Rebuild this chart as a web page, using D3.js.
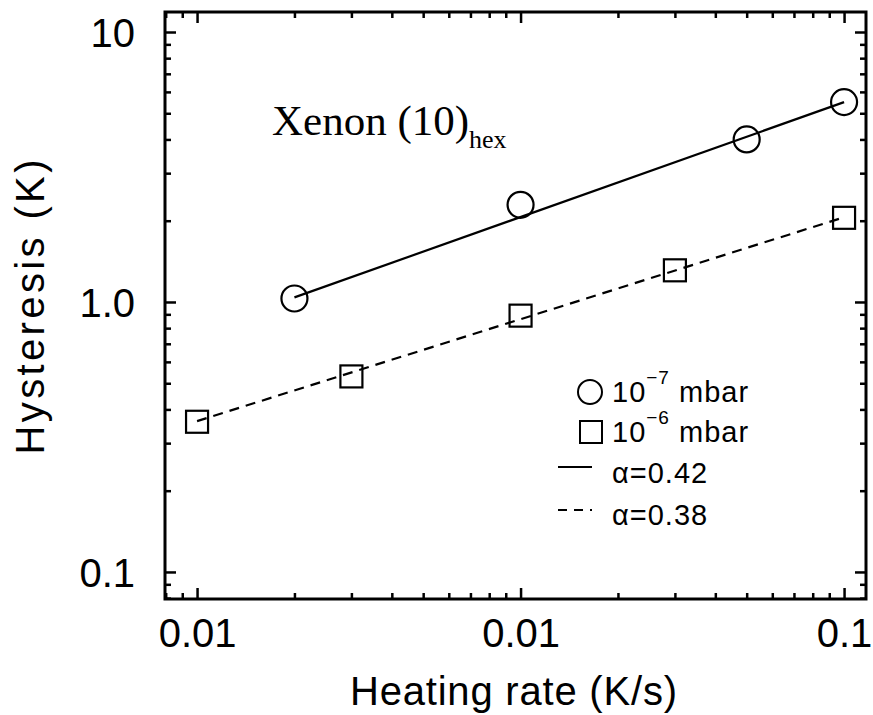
<!DOCTYPE html>
<html>
<head>
<meta charset="utf-8">
<script src="https://cdn.jsdelivr.net/npm/d3@7"></script>
<style>
  body { margin: 0; background: #fff; }
  .axis text { font-family: "Liberation Sans", Arial, sans-serif; font-size: 40px; fill: #000; }
  .axis line { stroke: #000; stroke-width: 2.5; }
  .axis path { display: none; }
</style>
</head>
<body>
<div id="chart"></div>
<script>
// heating rate (K/s) and hysteresis (K) for the two pressures
const rateLowP = [0.002, 0.01, 0.05, 0.1]
const hystLowP = [1.03, 2.29, 4.0, 5.5]
const rateHighP = [0.001, 0.003, 0.01, 0.03, 0.1]
const hystHighP = [0.36, 0.53, 0.89, 1.31, 2.05]

// power-law fits, read at their end points
const fitLowRate = [0.002, 0.1]
const fitLowHyst = [1.04, 5.5]
const fitHighRate = [0.001, 0.1]
const fitHighHyst = [0.362, 2.06]

const xTickValues = [0.001, 0.01, 0.1]
const xTickLabels = ['0.01', '0.01', '0.1']
const yTickValues = [0.1, 1, 10]
const yTickLabels = ['0.1', '1.0', '10']

const legendLabels = [['10', '\u22127', ' mbar'], ['10', '\u22126', ' mbar'], ['\u03b1=0.42'], ['\u03b1=0.38']]

const width = 873, height = 715
const frame = {left: 165, right: 866, top: 12, bottom: 599}

const svg = d3.select('#chart')
    .append('svg')
        .attr('width', width)
        .attr('height', height)

const x = d3.scaleLog()
    .domain([0.000796, 0.1169])
    .range([frame.left, frame.right])
const y = d3.scaleLog()
    .domain([0.0794, 11.86])
    .range([frame.bottom, frame.top])

// minor tick positions 2..9 per decade inside the domain
const minorTicks = (scale) => {
    const [a, b] = scale.domain()
    const out = []
    for (let p = Math.floor(Math.log10(a)); p <= Math.ceil(Math.log10(b)); p++) {
        for (let k = 2; k <= 9; k++) {
            const v = k * Math.pow(10, p)
            if (v > a && v < b) out.push(v)
        }
    }
    return out
}
const xMinor = minorTicks(x)
const yMinor = minorTicks(y)

const drawAxis = (axisFn, scale, transform, values, size, labels, padding) => {
    const g = svg.append('g')
        .attr('class', 'axis')
        .attr('transform', transform)
        .call(axisFn(scale)
            .tickValues(values)
            .tickSize(-size)
            .tickPadding(padding || 0)
            .tickFormat(labels ? (d, i) => labels[i] : ''))
    return g
}

// bottom / top
drawAxis(d3.axisBottom, x, `translate(0,${frame.bottom})`, xTickValues, 11, xTickLabels, 20)
drawAxis(d3.axisBottom, x, `translate(0,${frame.bottom})`, xMinor, 6)
drawAxis(d3.axisTop, x, `translate(0,${frame.top})`, xTickValues, 11)
drawAxis(d3.axisTop, x, `translate(0,${frame.top})`, xMinor, 6)
// left / right
drawAxis(d3.axisLeft, y, `translate(${frame.left},0)`, yTickValues, 11, yTickLabels, 30)
    .selectAll('text').attr('dy', '0.36em')
drawAxis(d3.axisLeft, y, `translate(${frame.left},0)`, yMinor, 6)
drawAxis(d3.axisRight, y, `translate(${frame.right},0)`, yTickValues, 11)
drawAxis(d3.axisRight, y, `translate(${frame.right},0)`, yMinor, 6)

// frame
svg.append('rect')
    .attr('x', frame.left)
    .attr('y', frame.top)
    .attr('width', frame.right - frame.left)
    .attr('height', frame.bottom - frame.top)
    .style('fill', 'none')
    .style('stroke', '#000')
    .style('stroke-width', 3)

// axis titles
svg.append('text')
    .attr('x', 513.5)
    .attr('y', 705)
    .attr('text-anchor', 'middle')
    .attr('textLength', 327)
    .style('font-family', '"Liberation Sans", Arial, sans-serif')
    .style('font-size', '40px')
    .text('Heating rate (K/s)')

svg.append('text')
    .attr('transform', 'translate(44,307) rotate(-90)')
    .attr('text-anchor', 'middle')
    .attr('textLength', 295)
    .style('font-family', '"Liberation Sans", Arial, sans-serif')
    .style('font-size', '40px')
    .text('Hysteresis (K)')

// annotation
const note = svg.append('text')
    .attr('x', 272)
    .attr('y', 135)
    .style('font-family', '"Liberation Serif", "Times New Roman", serif')
    .style('font-size', '43px')
note.append('tspan').text('Xenon (10)')
note.append('tspan')
    .attr('dy', 13)
    .style('font-size', '26px')
    .text('hex')

// fit lines
const line = d3.line()
    .x((d) => x(d[0]))
    .y((d) => y(d[1]))

svg.append('path')
    .attr('d', line(d3.zip(fitLowRate, fitLowHyst)))
    .style('fill', 'none')
    .style('stroke', '#000')
    .style('stroke-width', 2.2)

svg.append('path')
    .attr('d', line(d3.zip(fitHighRate, fitHighHyst)))
    .style('fill', 'none')
    .style('stroke', '#000')
    .style('stroke-width', 2.2)
    .style('stroke-dasharray', '10,7')

// markers
svg.append('g').selectAll('circle')
    .data(d3.zip(rateLowP, hystLowP))
    .join('circle')
        .attr('cx', (d) => x(d[0]))
        .attr('cy', (d) => y(d[1]))
        .attr('r', 13)
        .style('fill', 'none')
        .style('stroke', '#000')
        .style('stroke-width', 2.2)

const sq = 22
svg.append('g').selectAll('rect')
    .data(d3.zip(rateHighP, hystHighP))
    .join('rect')
        .attr('x', (d) => x(d[0]) - sq / 2)
        .attr('y', (d) => y(d[1]) - sq / 2)
        .attr('width', sq)
        .attr('height', sq)
        .style('fill', 'none')
        .style('stroke', '#000')
        .style('stroke-width', 2.2)

// legend
const legendFont = '"Liberation Sans", Arial, sans-serif'
const legendRows = [402, 442, 483, 525]
const legend = svg.append('g').attr('class', 'legend')

legend.append('circle')
    .attr('cx', 590).attr('cy', 392).attr('r', 12)
    .style('fill', 'none').style('stroke', '#000').style('stroke-width', 2)
legend.append('rect')
    .attr('x', 580).attr('y', 421).attr('width', 22).attr('height', 22)
    .style('fill', 'none').style('stroke', '#000').style('stroke-width', 2)
legend.append('line')
    .attr('x1', 558).attr('x2', 592).attr('y1', 467).attr('y2', 467)
    .style('stroke', '#000').style('stroke-width', 2)
legend.append('line')
    .attr('x1', 558).attr('x2', 592).attr('y1', 510).attr('y2', 510)
    .style('stroke', '#000').style('stroke-width', 2)
    .style('stroke-dasharray', '9,7')

legendLabels.forEach((parts, i) => {
    const t = legend.append('text')
        .attr('x', 612)
        .attr('y', legendRows[i])
        .style('font-family', legendFont)
        .style('font-size', '29px')
        .style('letter-spacing', '1px')
    if (parts.length === 1) {
        t.text(parts[0])
    } else {
        t.append('tspan').text(parts[0])
        t.append('tspan').attr('dy', -18).style('font-size', '19px').text(parts[1])
        t.append('tspan').attr('dy', 18).text(parts[2])
    }
})
</script>
</body>
</html>
